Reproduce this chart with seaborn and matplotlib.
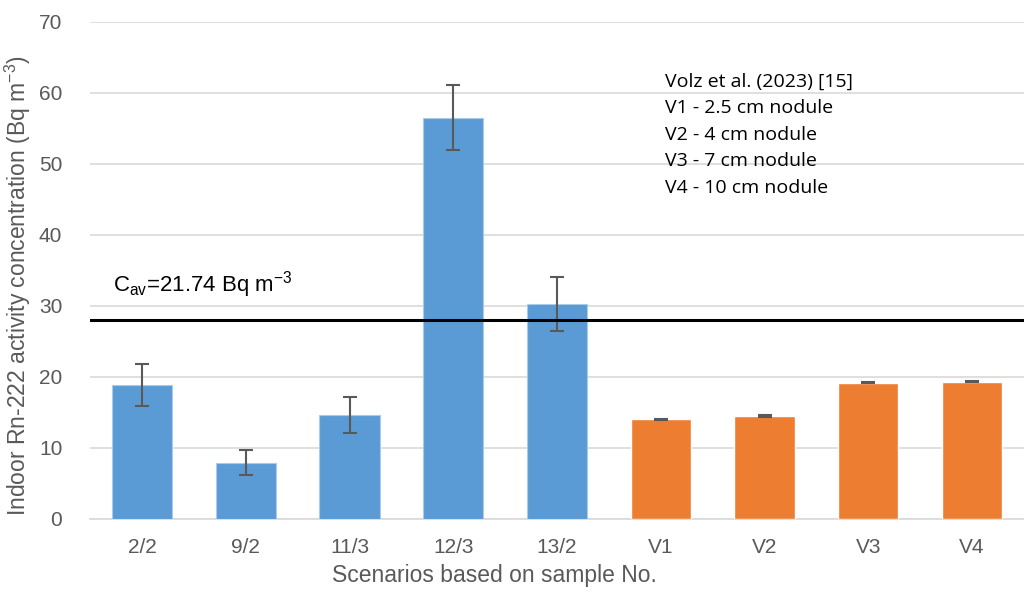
import matplotlib
matplotlib.use("Agg")
import matplotlib.pyplot as plt
import seaborn as sns
import numpy as np
import pandas as pd

categories = ["2/2", "9/2", "11/3", "12/3", "13/2", "V1", "V2", "V3", "V4"]
values = [18.8, 7.9, 14.6, 56.5, 30.2, 14.0, 14.45, 19.2, 19.35]
errors = [2.95, 1.75, 2.55, 4.6, 3.8, 0.12, 0.12, 0.12, 0.12]
groups = ["this", "this", "this", "this", "this", "volz", "volz", "volz", "volz"]
ref_line = 28.0
yticks = [0, 10, 20, 30, 40, 50, 60, 70]
note_lines = ["Volz et al. (2023) [15]", "V1 - 2.5 cm nodule", "V2 - 4 cm nodule",
              "V3 - 7 cm nodule", "V4 - 10 cm nodule"]

sns.set_theme(style="white")
plt.rcParams['font.family'] = ['Liberation Sans', 'DejaVu Sans']

df = pd.DataFrame({"cat": categories, "val": values, "grp": groups})

fig = plt.figure(figsize=(10.24, 5.91), dpi=100)
ax = fig.add_axes([0.088, 0.122, 0.912, 0.841])

sns.barplot(data=df, x="cat", y="val", hue="grp",
            palette={"this": "#5B9BD5", "volz": "#ED7D31"}, saturation=1,
            width=0.58, dodge=False, legend=False, ax=ax, zorder=3)
for p, g in zip(ax.patches, groups):
    if g == "this":
        p.set_edgecolor("#A9CBEA")
        p.set_linewidth(0.8)
ax.errorbar(np.arange(len(categories)), values, yerr=errors, fmt="none",
            ecolor="#595959", elinewidth=1.5, capsize=5, capthick=1.5, zorder=4)

ax.axhline(ref_line, color="black", lw=2.2, zorder=5)

ax.set_ylim(0, 70)
ax.set_xlim(-0.5, len(categories) - 0.5)
ax.set_yticks(yticks)
ax.yaxis.grid(True, color="#D9D9D9", lw=1.2, zorder=0)
ax.set_axisbelow(True)
for s in ["left", "right", "top"]:
    ax.spines[s].set_visible(False)
ax.spines["bottom"].set_color("#D9D9D9")
ax.spines["bottom"].set_linewidth(1.2)
ax.tick_params(axis="both", colors="#595959", labelsize=15, length=0)
ax.tick_params(axis="x", pad=14)
ax.tick_params(axis="y", pad=20)

ax.set_xlabel("Scenarios based on sample No.", fontsize=16.5, color="#595959", labelpad=5)
ax.set_ylabel(r"Indoor Rn-222 activity concentration (Bq m$^{\mathregular{-3}}$)", fontsize=16.5,
              color="#595959", labelpad=4)
ax.xaxis.label.set_x(0.433)
ax.yaxis.label.set_y(0.47)

ax.text(-0.28, 32.0, r"C$_{\mathregular{av}}$=21.74 Bq m$^{\mathregular{-3}}$",
        fontsize=16, color="black", ha="left", va="baseline")

ys = [0.879, 0.827, 0.773, 0.720, 0.666]
for line, yy in zip(note_lines, ys):
    ax.text(0.616, yy, line, transform=ax.transAxes, fontsize=14, color="black",
            ha="left", va="center", family=["Open Sans", "DejaVu Sans"])

fig.savefig("out.png", dpi=100)
